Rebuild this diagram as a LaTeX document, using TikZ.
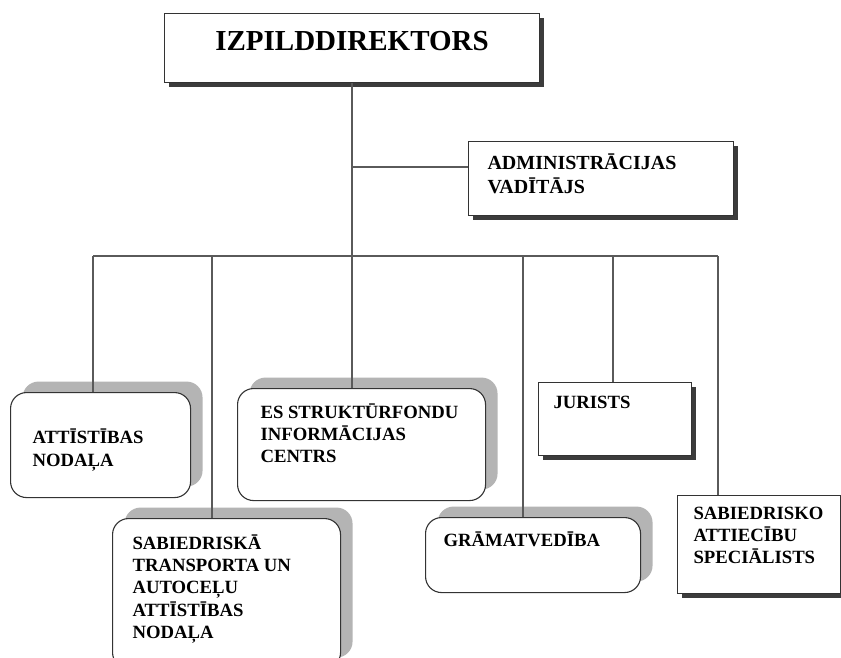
\documentclass[tikz,border=0pt]{standalone}
\usepackage{fontspec}
\setmainfont{Liberation Serif}
\usetikzlibrary{shadows}
% #1 W, #2 H, #3 left pad, #4 first baseline offset, #5 font size, #6 baselineskip, #7 text
\newcommand\boxtxt[7]{\parbox[c][#2pt][t]{#1pt}{\fontsize{#5}{#6}\bfseries\selectfont\vspace*{\dimexpr#4pt-17pt\relax}\leftskip=#3pt\relax\noindent\rule{0pt}{17pt}#7}}
\definecolor{linegray}{HTML}{5A5A5A}
\definecolor{softshadow}{HTML}{B4B4B4}
\definecolor{hardshadow}{HTML}{3C3C3C}
\tikzset{
  conn/.style={draw=linegray, line width=1.2pt},
  sqbox/.style={draw=black!80, line width=1.1pt, fill=white, inner sep=0pt, anchor=north west,
    drop shadow={shadow xshift=4pt, shadow yshift=-4pt, fill=hardshadow, opacity=1}},
  rdbox/.style={draw=black!80, line width=1.1pt, fill=white, inner sep=0pt, anchor=north west,
    rounded corners=16pt,
    drop shadow={shadow xshift=12pt, shadow yshift=11pt, fill=softshadow, opacity=1}},
}
\begin{document}
\begin{tikzpicture}[x=1pt,y=-1pt]
\useasboundingbox (0,0) rectangle (841,657);
\clip (0,0) rectangle (841,657);
\fill[white] (0,0) rectangle (841,657);

% coordinates for connector junctions
\coordinate (admj) at (468,167);
\coordinate (d1) at (93,256);
\coordinate (d2) at (212,256);
\coordinate (d4) at (523,256);
\coordinate (d5) at (613,256);
\coordinate (d6) at (718,256);

% nodes
\node[sqbox] (dir) at (164,13) {\parbox[c][69pt][t]{375pt}{\centering\fontsize{29}{34}\bfseries\selectfont\vspace*{12.5pt}\rule{0pt}{24pt}IZPILDDIREKTORS}};
\node[sqbox] (adm) at (468,141) {\boxtxt{265}{74}{19}{27.5}{20}{24}{ADMINISTRĀCIJAS\\VADĪTĀJS}};
\node[rdbox] (att) at (10,392) {\boxtxt{180}{105}{22}{51}{18.7}{23}{ATTĪSTĪBAS\\NODAĻA}};
\node[rdbox] (es) at (237,388) {\boxtxt{248}{112}{23}{30}{18.7}{22}{ES STRUKTŪRFONDU\\INFORMĀCIJAS\\CENTRS}};
\node[rdbox] (sab) at (112,518) {\boxtxt{228}{150}{20}{31}{18.7}{22.2}{SABIEDRISKĀ\\TRANSPORTA UN\\AUTOCEĻU\\ATTĪSTĪBAS\\NODAĻA}};
\node[rdbox] (gram) at (425,517) {\boxtxt{215}{75}{18}{29}{18.7}{22}{GRĀMATVEDĪBA}};
\node[sqbox] (jur) at (538,382) {\boxtxt{153}{73}{15}{26}{18.7}{22}{JURISTS}};
\node[sqbox] (spec) at (677,495) {\boxtxt{163}{98}{16}{24}{18.7}{22}{SABIEDRISKO\\ATTIECĪBU\\SPECIĀLISTS}};

% connectors
\draw[conn] (dir.south) -- (dir.south |- es.north);
\draw[conn] (admj -| dir.south) -- (admj);
\draw[conn] (d1) -- (d6);
\draw[conn] (d1) -- (d1 |- att.north);
\draw[conn] (d2) -- (d2 |- sab.north);
\draw[conn] (d4) -- (d4 |- gram.north);
\draw[conn] (d5) -- (d5 |- jur.north);
\draw[conn] (d6) -- (d6 |- spec.north);
\end{tikzpicture}
\end{document}
